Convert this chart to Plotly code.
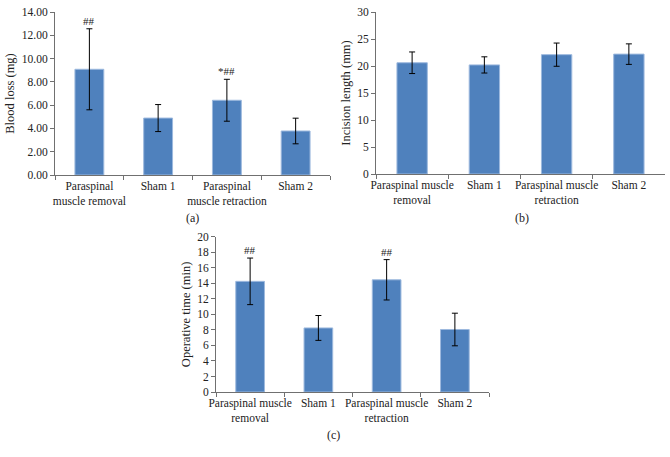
import plotly.graph_objects as go

cats_a = ["Paraspinal<br>muscle removal", "Sham 1", "Paraspinal<br>muscle retraction", "Sham 2"]
cats_bc = ["Paraspinal muscle<br>removal", "Sham 1", "Paraspinal muscle<br>retraction", "Sham 2"]

blood_loss = [9.08, 4.89, 6.42, 3.78]
blood_loss_err = [3.48, 1.16, 1.80, 1.10]
blood_marks = ["##", "", "*##", ""]

incision = [20.6, 20.2, 22.1, 22.2]
incision_err = [2.0, 1.5, 2.15, 1.9]

optime = [14.25, 8.25, 14.45, 8.05]
optime_err = [3.0, 1.6, 2.6, 2.1]
optime_marks = ["##", "", "##", ""]

BLUE = "#4F81BD"
FONT = "Liberation Serif"
W, H = 670, 457

def px_x(a, b):
    return [a / W, b / W]

def px_y(top, bottom):
    return [1 - bottom / H, 1 - top / H]

fig = go.Figure()

def add_bars(vals, errs, cats, xa, ya):
    fig.add_trace(go.Bar(
        x=cats, y=vals, xaxis=xa, yaxis=ya,
        marker=dict(color=BLUE, line=dict(color="#9DB9DE", width=1)),
        error_y=dict(type="data", array=errs, visible=True, color="black", thickness=1, width=3),
        showlegend=False, hoverinfo="skip",
    ))

add_bars(blood_loss, blood_loss_err, cats_a, "x", "y")
add_bars(incision, incision_err, cats_bc, "x2", "y2")
add_bars(optime, optime_err, cats_bc, "x3", "y3")

axis_common = dict(showline=True, linecolor="#707070", linewidth=1, ticks="outside",
                   tickcolor="#707070", ticklen=4, showgrid=False, zeroline=False, automargin=False,
                   ticklabeloverflow="allow",
                   tickfont=dict(family=FONT, size=11.5, color="#222"))

xcommon = dict(axis_common, tickson="boundaries", range=[-0.5, 3.5], type="category", tickangle=0)

ytitle_font = dict(family=FONT, size=12.5)

fig.update_layout(
    width=W, height=H,
    margin=dict(l=0, r=0, t=0, b=0),
    paper_bgcolor="white", plot_bgcolor="white",
    bargap=0.58,
    font=dict(family=FONT, color="#222"),
    xaxis=dict(xcommon, domain=px_x(55, 330), anchor="y"),
    yaxis=dict(axis_common, domain=px_y(12, 175), range=[0, 14], dtick=2, tickformat=".2f",
               anchor="x", title=dict(text="Blood loss (mg)", font=ytitle_font, standoff=4)),
    xaxis2=dict(xcommon, domain=px_x(376, 665), anchor="y2"),
    yaxis2=dict(axis_common, domain=px_y(12, 174), range=[0, 30], dtick=5,
                anchor="x2", title=dict(text="Incision length (mm)", font=ytitle_font, standoff=3)),
    xaxis3=dict(xcommon, domain=px_x(216, 489), anchor="y3"),
    yaxis3=dict(axis_common, domain=px_y(236.7, 392), range=[0, 20], dtick=2,
                anchor="x3", title=dict(text="Operative time (min)", font=ytitle_font, standoff=3)),
)

annotations = []
for c, v, e, m in zip(cats_a, blood_loss, blood_loss_err, blood_marks):
    if m:
        annotations.append(dict(x=c, y=v + e, xref="x", yref="y", text=m, showarrow=False,
                                yanchor="bottom", yshift=0, font=dict(family=FONT, size=11, color="#222")))
for c, v, e, m in zip(cats_bc, optime, optime_err, optime_marks):
    if m:
        annotations.append(dict(x=c, y=v + e, xref="x3", yref="y3", text=m, showarrow=False,
                                yanchor="bottom", yshift=0, font=dict(family=FONT, size=11, color="#222")))

for txt, x, y in [("(a)", 192, 218), ("(b)", 522, 218), ("(c)", 333, 435)]:
    annotations.append(dict(x=x / W, y=1 - y / H, xref="paper", yref="paper", text=txt,
                            showarrow=False, xanchor="center", yanchor="middle",
                            font=dict(family=FONT, size=12, color="#222")))

fig.update_layout(annotations=annotations)

fig.write_html("out.html", config={"displayModeBar": False},
               post_script="document.body.style.margin='0';document.body.style.padding='0';")
